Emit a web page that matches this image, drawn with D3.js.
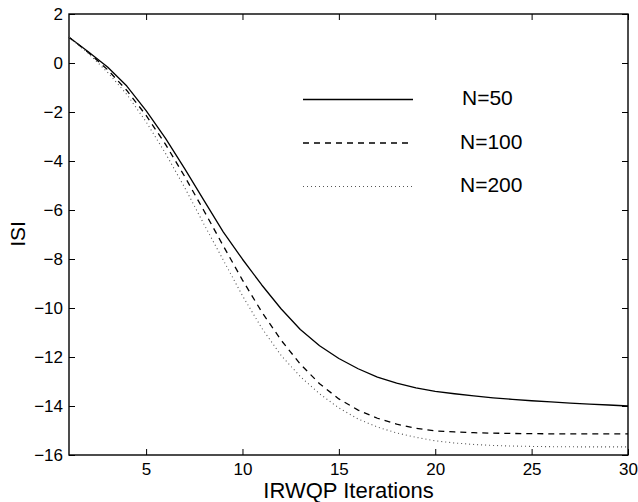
<!DOCTYPE html>
<html>
<head>
<meta charset="utf-8">
<script src="https://cdn.jsdelivr.net/npm/d3@7"></script>
<style>
	body { margin: 0; background: #fff; }
	svg { display: block; }
	text { font-family: "Liberation Sans", Arial, Helvetica, sans-serif; fill: #000; }
</style>
</head>
<body>
<svg id="chart" width="638" height="502"></svg>
<script>
// data
const iterations = d3.range(1, 31);
const isiN50 = [1.05, 0.46, -0.16, -0.94, -1.94, -3.07, -4.31, -5.61, -6.89, -8.01,
	-9.06, -10.03, -10.88, -11.54, -12.06, -12.48, -12.82, -13.07, -13.26, -13.40,
	-13.50, -13.59, -13.665, -13.73, -13.785, -13.835, -13.88, -13.92, -13.96, -14.0];
const isiN100 = [1.05, 0.43, -0.27, -1.12, -2.14, -3.31, -4.63, -6.03, -7.46, -8.86,
	-10.16, -11.31, -12.29, -13.09, -13.71, -14.17, -14.5, -14.74, -14.91, -15.02,
	-15.06, -15.09, -15.11, -15.12, -15.13, -15.135, -15.14, -15.14, -15.14, -15.14];
const isiN200 = [1.05, 0.4, -0.38, -1.28, -2.4, -3.68, -5.08, -6.58, -8.04, -9.5,
	-10.82, -11.93, -12.8, -13.5, -14.08, -14.53, -14.86, -15.1, -15.28, -15.42,
	-15.51, -15.57, -15.61, -15.635, -15.65, -15.66, -15.665, -15.67, -15.67, -15.67];
const seriesNames = ["N=50", "N=100", "N=200"];
const xTicks = [5, 10, 15, 20, 25, 30];
const yTicks = [-16, -14, -12, -10, -8, -6, -4, -2, 0, 2];

const svg = d3.select("#chart");
const pLeft = 69, pRight = 628, pTop = 14, pBottom = 455;

const x = d3.scaleLinear().domain([1, 30]).range([pLeft, pRight]);
const y = d3.scaleLinear().domain([-16, 2]).range([pBottom, pTop]);

const fmt = d => d < 0 ? "\u2212" + Math.abs(d) : String(d);

// axes, ticks pointing inward like matlab
svg.append("g")
	.attr("transform", `translate(0,${pBottom})`)
	.call(d3.axisBottom(x).tickValues(xTicks).tickFormat(fmt).tickSize(-6).tickSizeOuter(0).tickPadding(8))
	.call(g => g.select(".domain").remove());
svg.append("g")
	.attr("transform", `translate(0,${pTop})`)
	.call(d3.axisTop(x).tickValues(xTicks).tickFormat("").tickSize(-6).tickSizeOuter(0))
	.call(g => g.select(".domain").remove());
svg.append("g")
	.attr("transform", `translate(${pLeft},0)`)
	.call(d3.axisLeft(y).tickValues(yTicks).tickFormat(fmt).tickSize(-6).tickSizeOuter(0).tickPadding(6))
	.call(g => g.select(".domain").remove());
svg.append("g")
	.attr("transform", `translate(${pRight},0)`)
	.call(d3.axisRight(y).tickValues(yTicks).tickFormat("").tickSize(-6).tickSizeOuter(0))
	.call(g => g.select(".domain").remove());

svg.selectAll(".tick line").attr("stroke", "#000").attr("stroke-width", 1);
svg.selectAll(".tick text").attr("font-size", 17).attr("font-family", "Liberation Sans, Arial, sans-serif").attr("fill", "#000");

svg.append("rect")
	.attr("x", pLeft).attr("y", pTop)
	.attr("width", pRight - pLeft).attr("height", pBottom - pTop)
	.attr("fill", "none").attr("stroke", "#000").attr("stroke-width", 1.4);

// curves (straight segments between iterations, as matlab plots them)
const styles = [
	{ dash: null, color: "#000", w: 1.3 },
	{ dash: "6,5", color: "#000", w: 1.3 },
	{ dash: "1,3", color: "#555", w: 1.1 }
];
const allSeries = [isiN50, isiN100, isiN200];

const line = d3.line()
	.x((d, i) => x(iterations[i]))
	.y(d => y(d));

allSeries.forEach((s, k) => {
	svg.append("path")
		.datum(s)
		.attr("d", line)
		.attr("fill", "none")
		.attr("stroke", styles[k].color)
		.attr("stroke-width", styles[k].w)
		.attr("stroke-linejoin", "round")
		.attr("stroke-dasharray", styles[k].dash);
});

// legend
seriesNames.forEach((name, k) => {
	const ly = 99.5 + k * 43.5;
	svg.append("line")
		.attr("x1", 303).attr("x2", 413)
		.attr("y1", ly).attr("y2", ly)
		.attr("stroke", styles[k].color)
		.attr("stroke-width", styles[k].w)
		.attr("stroke-dasharray", styles[k].dash);
	svg.append("text")
		.attr("x", k == 0 ? 462 : 460)
		.attr("y", ly + 5.5)
		.attr("font-size", 21)
		.text(name);
});

// axis labels
svg.append("text")
	.attr("x", (pLeft + pRight) / 2)
	.attr("y", 498)
	.attr("text-anchor", "middle")
	.attr("font-size", 22)
	.text("IRWQP Iterations");

svg.append("text")
	.attr("transform", "translate(25,234) rotate(-90)")
	.attr("text-anchor", "middle")
	.attr("font-size", 21)
	.text("ISI");
</script>
</body>
</html>
